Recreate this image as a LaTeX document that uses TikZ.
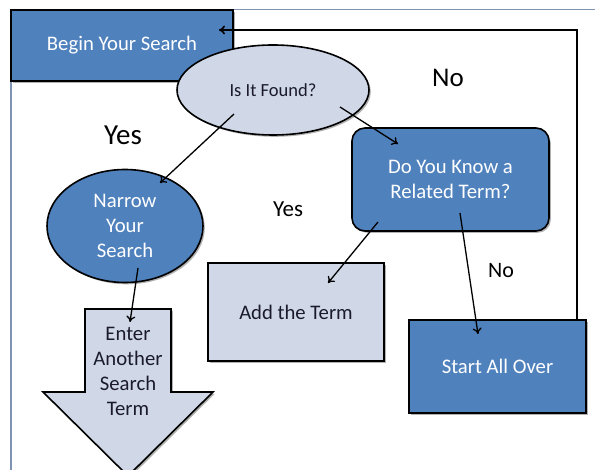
\documentclass[tikz,border=0pt]{standalone}
\usepackage{fontspec}
\setmainfont{Carlito}
\usetikzlibrary{shapes.geometric,arrows.meta,shadows}
\definecolor{darkblue}{HTML}{4F81BD}
\definecolor{lightblue}{HTML}{D0D8E8}
\definecolor{framecol}{HTML}{7F93B3}
\definecolor{darktext}{HTML}{1A1A2A}
\tikzset{
  body/.style={font=\fontsize{20.7}{25}\selectfont},
  shadowed/.style={drop shadow={shadow xshift=1.8pt, shadow yshift=-1.8pt, opacity=0.3, fill=black}},
  darkbox/.style={body, shadowed, draw=black, line width=1.6pt, fill=darkblue, text=white, align=center, inner sep=0pt},
  lightbox/.style={body, shadowed, draw=black, line width=1.6pt, fill=lightblue, text=darktext, align=center, inner sep=0pt},
  arr/.style={-{To[length=6pt,width=9pt]}, line width=1.3pt, black},
  lbl/.style={text=black, inner sep=0pt},
}
\begin{document}
\begin{tikzpicture}[x=1pt,y=-1pt]
\useasboundingbox (0,0) rectangle (595,470);
\fill[white] (0,0) rectangle (595,470);
% outer frame
\draw[framecol, line width=1.3pt] (11,472) -- (11,9.5) -- (597,9.5);
% shapes
\node[darkbox, rectangle, minimum width=222pt, minimum height=71pt] (begin) at (122,45.5) {Begin Your Search};
\node[darkbox, rectangle, minimum width=177pt, minimum height=93pt] (start) at (497.5,366.5) {Start All Over};
% loop back
\coordinate (s1) at (577,320);
\coordinate (b1) at (219,30);
\draw[arr, line width=1.7pt] (s1) |- (b1);
\node[lightbox, ellipse, minimum width=192pt, minimum height=90pt, font=\fontsize{18.5}{22}\selectfont] (found) at (273,90) {Is It Found?};
\node[darkbox, ellipse, minimum width=156pt, minimum height=113pt] (narrow) at (125,226) {Narrow\\Your\\Search};
\node[darkbox, rectangle, rounded corners=13pt, minimum width=197pt, minimum height=103pt] (know) at (450.5,179.5) {Do You Know a\\Related Term?};
\node[lightbox, rectangle, minimum width=176pt, minimum height=98pt] (add) at (296,312) {Add the Term};
% down arrow shape
\filldraw[shadowed, line width=1.6pt, draw=black, fill=lightblue] (85,309) -- (171,309) -- (171,392) -- (213,392) -- (128,476) -- (43,392) -- (85,392) -- cycle;
\node[body, text=darktext, align=center, inner sep=0pt] (enter) at (128,371.5) {Enter\\Another\\Search\\Term};
% labels
\node[lbl, font=\fontsize{27}{30}\selectfont] (no1) at (448,78) {No};
\node[lbl, font=\fontsize{29}{32}\selectfont] (yes1) at (123,135) {Yes};
\node[lbl, font=\fontsize{23}{26}\selectfont] (yes2) at (288,209) {Yes};
\node[lbl, font=\fontsize{22}{25}\selectfont] (no2) at (501,271) {No};
% connectors
\coordinate (f1) at (234,114);
\coordinate (n1) at (160,183);
\draw[arr] (f1) -- (n1);
\coordinate (f2) at (340,107);
\coordinate (k1) at (398,144);
\draw[arr] (f2) -- (k1);
\coordinate (n2) at (138,268);
\coordinate (e1) at (130,322);
\draw[arr] (n2) -- (e1);
\coordinate (k2) at (378,222);
\coordinate (a1) at (328,283);
\draw[arr] (k2) -- (a1);
\coordinate (k3) at (460,213);
\coordinate (st1) at (478,334);
\draw[arr] (k3) -- (st1);
\end{tikzpicture}
\end{document}
